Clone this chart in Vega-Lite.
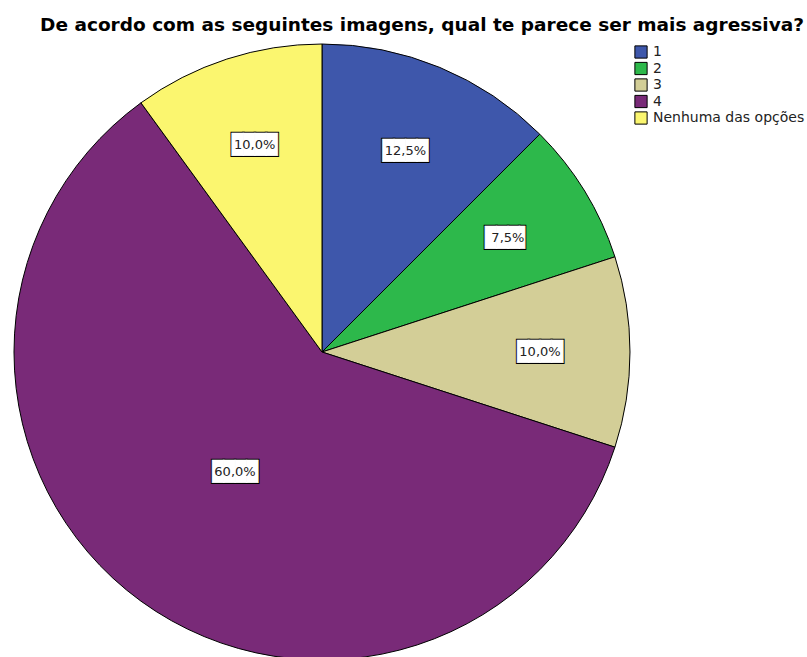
{
  "$schema": "https://vega.github.io/schema/vega-lite/v6.json",
  "autosize": {"type": "none"},
  "width": 644,
  "height": 616,
  "padding": {"left": 0, "top": 44, "right": 163, "bottom": 0},
  "background": "white",
  "title": {
    "text": "De acordo com as seguintes imagens, qual te parece ser mais agressiva?",
    "font": "DejaVu Sans",
    "fontSize": 18.5,
    "fontWeight": "bold",
    "color": "black",
    "anchor": "middle",
    "frame": "group",
    "dx": 100,
    "offset": 8
  },
  "data": {
    "values": [
      {"opcao": "1", "pct": 12.5, "label": "12,5%"},
      {"opcao": "2", "pct": 7.5, "label": "7,5%"},
      {"opcao": "3", "pct": 10.0, "label": "10,0%"},
      {"opcao": "4", "pct": 60.0, "label": "60,0%"},
      {"opcao": "Nenhuma das opções", "pct": 10.0, "label": "10,0%"}
    ]
  },
  "transform": [
    {"calculate": "length(datum.label) > 4 ? '████' : '███▌'", "as": "caixa"}
  ],
  "encoding": {
    "theta": {"field": "pct", "type": "quantitative", "stack": true},
    "order": {"field": "opcao", "type": "ordinal", "sort": "ascending"}
  },
  "layer": [
    {
      "mark": {"type": "arc", "stroke": "black", "strokeWidth": 1},
      "encoding": {
        "color": {
          "field": "opcao",
          "type": "nominal",
          "scale": {
            "domain": ["1", "2", "3", "4", "Nenhuma das opções"],
            "range": ["#3e57ab", "#2db84b", "#d3ce97", "#792a78", "#fbf66f"]
          },
          "legend": {
            "title": null,
            "orient": "none",
            "legendX": 634,
            "legendY": 1,
            "padding": 0,
            "symbolType": "square",
            "symbolSize": 150,
            "symbolStrokeColor": "black",
            "symbolStrokeWidth": 1,
            "symbolOpacity": 1,
            "labelFont": "DejaVu Sans",
            "labelFontSize": 14,
            "labelColor": "#222222",
            "rowPadding": -1.5,
            "labelOffset": 5
          }
        }
      }
    },
    {
      "mark": {"type": "text", "radius": 218, "font": "DejaVu Sans Mono", "fontSize": 19, "fill": "black", "stroke": "black", "strokeWidth": 2.5, "baseline": "middle", "align": "center"},
      "encoding": {"text": {"field": "caixa"}, "opacity": {"condition": {"test": "datum.pct > 50", "value": 0}, "value": 1}}
    },
    {
      "mark": {"type": "text", "radius": 218, "font": "DejaVu Sans Mono", "fontSize": 19, "fill": "white", "stroke": "white", "strokeWidth": 0.5, "baseline": "middle", "align": "center"},
      "encoding": {"text": {"field": "caixa"}, "opacity": {"condition": {"test": "datum.pct > 50", "value": 0}, "value": 1}}
    },
    {
      "mark": {"type": "text", "radius": 218, "font": "DejaVu Sans", "fontSize": 13, "fill": "#222222", "baseline": "middle", "align": "center"},
      "encoding": {
        "text": {"field": "label"},
        "opacity": {"condition": {"test": "datum.pct > 50", "value": 0}, "value": 1}
      }
    },
    {
      "mark": {"type": "text", "radius": 148, "font": "DejaVu Sans Mono", "fontSize": 19, "fill": "black", "stroke": "black", "strokeWidth": 2.5, "baseline": "middle", "align": "center"},
      "encoding": {"text": {"field": "caixa"}, "opacity": {"condition": {"test": "datum.pct > 50", "value": 1}, "value": 0}}
    },
    {
      "mark": {"type": "text", "radius": 148, "font": "DejaVu Sans Mono", "fontSize": 19, "fill": "white", "stroke": "white", "strokeWidth": 0.5, "baseline": "middle", "align": "center"},
      "encoding": {"text": {"field": "caixa"}, "opacity": {"condition": {"test": "datum.pct > 50", "value": 1}, "value": 0}}
    },
    {
      "mark": {"type": "text", "radius": 148, "font": "DejaVu Sans", "fontSize": 13, "fill": "#222222", "baseline": "middle", "align": "center"},
      "encoding": {
        "text": {"field": "label"},
        "opacity": {"condition": {"test": "datum.pct > 50", "value": 1}, "value": 0}
      }
    }
  ]
}
